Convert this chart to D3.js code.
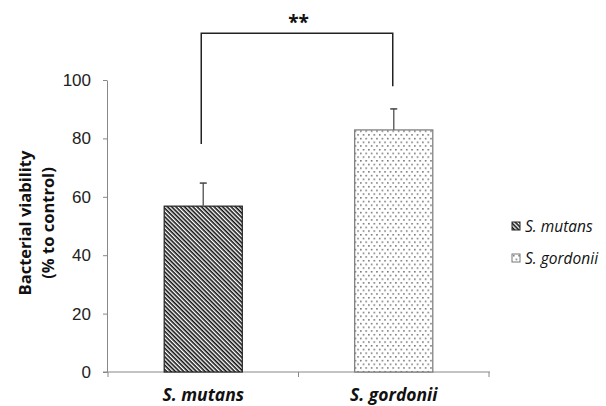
<!DOCTYPE html>
<html>
<head>
<meta charset="utf-8">
<script src="https://cdn.jsdelivr.net/npm/d3@7/dist/d3.min.js"></script>
<style>
  body { margin: 0; background: #fff; }
  svg { display: block; font-family: "Open Sans", "Liberation Sans", sans-serif; }
</style>
</head>
<body>
<div id="chart"></div>
<script>
// data
const categories = ['S. mutans', 'S. gordonii'];
const viability = [56.8, 82.9];
const errors = [7.9, 7.2];
const yTicks = [0, 20, 40, 60, 80, 100];
const bracketEnds = [78.1, 97.9]; // where the bracket legs stop
const bracketTop = 116;
const significance = '**';

const width = 606;
const height = 406;

const svg = d3.select('#chart').append('svg')
  .attr('width', width)
  .attr('height', height);

// patterns
const defs = svg.append('defs');

const stripes = defs.append('pattern')
  .attr('id', 'stripes')
  .attr('patternUnits', 'userSpaceOnUse')
  .attr('width', 3)
  .attr('height', 3)
  .attr('patternTransform', 'rotate(45)');
stripes.append('rect').attr('width', 3).attr('height', 3).attr('fill', '#fff');
stripes.append('rect').attr('width', 3).attr('height', 1.6).attr('fill', '#111');

const dots = defs.append('pattern')
  .attr('id', 'dots')
  .attr('patternUnits', 'userSpaceOnUse')
  .attr('width', 5.4)
  .attr('height', 7.4);
dots.append('rect').attr('width', 5.4).attr('height', 7.4).attr('fill', '#fff');
dots.append('rect').attr('x', 1).attr('y', 1).attr('width', 1.4).attr('height', 1.4).attr('fill', '#555');
dots.append('rect').attr('x', 3.7).attr('y', 4.7).attr('width', 1.4).attr('height', 1.4).attr('fill', '#555');

const fills = ['url(#stripes)', 'url(#dots)'];
const strokes = ['#222', '#777'];

// scales
const x = d3.scaleBand()
  .domain(categories)
  .range([108, 489])
  .paddingInner(0)
  .paddingOuter(0);

const y = d3.scaleLinear()
  .domain([0, 100])
  .range([372, 80]);

const barW = x.bandwidth() * 0.41;

// y axis
const yAxis = svg.append('g')
  .attr('transform', 'translate(107,0)')
  .call(d3.axisLeft(y).tickValues(yTicks).tickSize(4).tickSizeOuter(0));
yAxis.select('.domain').attr('stroke', '#888');
yAxis.selectAll('.tick line').attr('stroke', '#888');
yAxis.selectAll('.tick text')
  .attr('fill', '#222')
  .attr('font-size', 17)
  .attr('x', -16);

// x axis
const xAxis = svg.append('g')
  .attr('transform', 'translate(0,372)');
xAxis.append('line')
  .attr('x1', 103).attr('x2', 490)
  .attr('stroke', '#888');
const xEdges = [x.range()[0]].concat(categories.map(c => x(c) + x.bandwidth()));
xAxis.selectAll('line.tk')
  .data(xEdges)
  .join('line')
  .attr('class', 'tk')
  .attr('x1', d => d).attr('x2', d => d)
  .attr('y1', 0).attr('y2', 5)
  .attr('stroke', '#888');
xAxis.selectAll('text')
  .data(categories)
  .join('text')
  .attr('x', d => x(d) + x.bandwidth() / 2)
  .attr('y', 29)
  .attr('text-anchor', 'middle')
  .attr('font-size', 17.5)
  .attr('font-weight', 'bold')
  .attr('font-style', 'italic')
  .attr('fill', '#111')
  .text(d => d);

// bars
svg.selectAll('rect.bar')
  .data(categories)
  .join('rect')
  .attr('class', 'bar')
  .attr('x', d => x(d) + x.bandwidth() / 2 - barW / 2)
  .attr('y', (d, i) => y(viability[i]))
  .attr('width', barW)
  .attr('height', (d, i) => y(0) - y(viability[i]))
  .attr('fill', (d, i) => fills[i])
  .attr('stroke', (d, i) => strokes[i])
  .attr('stroke-width', 1.2);

// error bars (upper only)
const eb = svg.selectAll('g.err')
  .data(categories)
  .join('g')
  .attr('class', 'err');
eb.append('line')
  .attr('x1', d => x(d) + x.bandwidth() / 2)
  .attr('x2', d => x(d) + x.bandwidth() / 2)
  .attr('y1', (d, i) => y(viability[i]))
  .attr('y2', (d, i) => y(viability[i] + errors[i]))
  .attr('stroke', '#666')
  .attr('stroke-width', 1.5);
eb.append('line')
  .attr('x1', d => x(d) + x.bandwidth() / 2 - 3.5)
  .attr('x2', d => x(d) + x.bandwidth() / 2 + 3.5)
  .attr('y1', (d, i) => y(viability[i] + errors[i]))
  .attr('y2', (d, i) => y(viability[i] + errors[i]))
  .attr('stroke', '#444')
  .attr('stroke-width', 1.5);

// significance bracket
const cx = categories.map(c => x(c) + x.bandwidth() / 2);
svg.append('path')
  .attr('d', d3.line()([
    [cx[0] - 2, y(bracketEnds[0])],
    [cx[0] - 2, y(bracketTop)],
    [cx[1] - 1, y(bracketTop)],
    [cx[1] - 1, y(bracketEnds[1])]
  ]))
  .attr('fill', 'none')
  .attr('stroke', '#222')
  .attr('stroke-width', 1.5);
svg.append('text')
  .attr('x', (cx[0] + cx[1]) / 2)
  .attr('y', y(bracketTop) - 4)
  .attr('text-anchor', 'middle')
  .attr('font-size', 19)
  .attr('font-weight', 'bold')
  .attr('fill', '#111')
  .text(significance);

// y axis title
const yTitle = svg.append('text')
  .attr('transform', 'translate(0,223) rotate(-90)')
  .attr('text-anchor', 'middle')
  .attr('font-size', 16.5)
  .attr('font-weight', 'bold')
  .attr('fill', '#111');
yTitle.append('tspan').attr('x', 0).attr('y', 31).text('Bacterial viability');
yTitle.append('tspan').attr('x', 0).attr('y', 54).text('(% to control)');

// legend
const legend = svg.selectAll('g.legend')
  .data(categories)
  .join('g')
  .attr('class', 'legend')
  .attr('transform', (d, i) => `translate(512,${222 + i * 32})`);
legend.append('rect')
  .attr('width', 8).attr('height', 8)
  .attr('fill', (d, i) => fills[i])
  .attr('stroke', (d, i) => strokes[i])
  .attr('stroke-width', 1);
legend.append('text')
  .attr('x', 13)
  .attr('y', 9.5)
  .attr('font-size', 15.5)
  .attr('font-style', 'italic')
  .attr('fill', '#111')
  .text(d => d);
</script>
</body>
</html>
